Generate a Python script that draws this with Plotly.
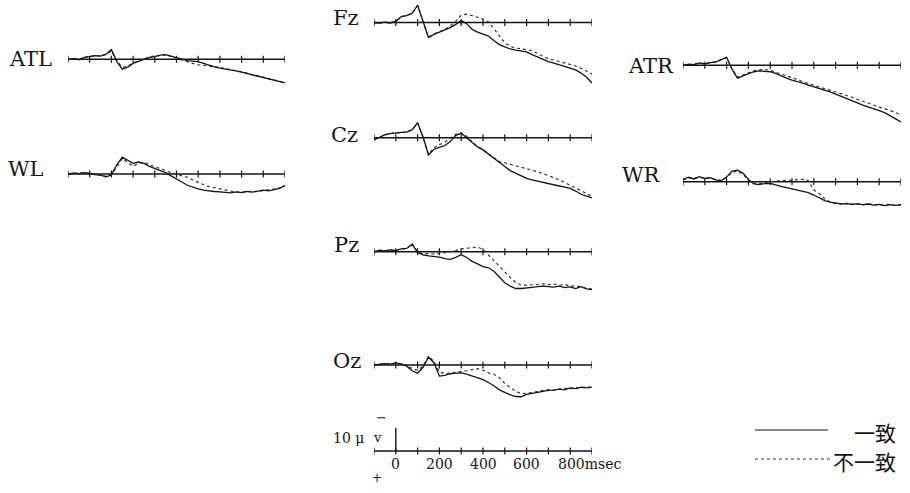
import plotly.graph_objects as go

# ---------------- data ----------------
TIME_MS = [-100, -75, -50, -25, 0, 25, 50, 75, 100, 125, 150, 175, 200, 225, 250, 275,
           300, 325, 350, 375, 400, 425, 450, 475, 500, 525, 550, 575, 600, 625, 650,
           675, 700, 725, 750, 775, 800, 825, 850, 875, 900]
TICKS_MS = [-100, 0, 100, 200, 300, 400, 500, 600, 700, 800, 900]
SCALE_TICK_MS = [0, 200, 400, 600, 800]
SCALE_TICK_TEXT = ["0", "200", "400", "600", "800msec"]
CAL_MS = [0, 0]
CAL_UV = [0, -10]

# values in microvolts (negative plotted upward)
FZ_MATCH = [0.0, 0.3, -0.2, 0.2, -0.5, -2.6, -3.0, -4.0, -7.5, -0.5, 6.5, 5.2, 4.3, 3.3, 2.2, 0.8,
            -0.9, 0.5, 3.0, 4.2, 5.0, 5.9, 7.8, 9.6, 10.6, 11.5, 12.0, 12.4, 12.8, 14.0, 15.0,
            16.2, 17.0, 17.7, 18.4, 19.1, 19.8, 20.6, 22.0, 23.8, 26.3]
FZ_MISMATCH = [0.1, 0.2, -0.1, 0.3, -0.4, -2.5, -3.1, -4.1, -7.3, -0.3, 6.3, 5.0, 4.0, 3.0, 1.5, -0.5,
               -3.2, -3.6, -3.0, -2.4, -1.5, -0.3, 2.5, 5.8, 8.8, 10.4, 11.1, 11.4, 11.6, 12.2, 13.5,
               14.8, 15.8, 16.3, 16.9, 17.5, 18.1, 18.9, 19.9, 21.0, 22.4]
CZ_MATCH = [1.0, 0.0, -1.3, -1.8, -2.2, -2.3, -2.4, -3.5, -6.5, -0.3, 7.5, 5.0, 4.2, 3.4, 1.7, -1.0,
            -1.9, 0.0, 2.2, 4.0, 5.3, 7.2, 9.0, 10.8, 12.5, 14.3, 15.4, 16.7, 17.7, 18.3, 18.9,
            19.4, 19.9, 20.4, 21.0, 21.5, 22.0, 23.2, 24.6, 25.4, 26.2]
CZ_MISMATCH = [0.8, 0.1, -1.2, -1.9, -2.1, -2.4, -2.5, -3.4, -6.3, -0.2, 7.2, 4.5, 3.0, 2.0, 0.2, -1.5,
               -2.1, -0.6, 1.8, 3.8, 5.2, 7.0, 8.8, 10.4, 10.9, 11.5, 12.2, 12.8, 13.3, 14.0, 14.8,
               15.6, 16.5, 17.3, 18.3, 19.5, 20.8, 21.9, 23.0, 24.3, 25.6]
PZ_MATCH = [0.0, -0.6, -0.3, -0.8, -0.5, -1.2, -1.4, -3.2, 0.3, 1.4, 1.8, 2.0, 2.4, 3.0, 3.3, 2.5,
            1.3, 2.5, 4.2, 5.3, 6.5, 7.0, 8.5, 11.0, 13.5, 15.0, 16.0, 16.0, 15.9, 15.5, 15.2,
            15.0, 15.2, 15.4, 15.0, 15.6, 15.3, 16.0, 15.2, 16.2, 16.5]
PZ_MISMATCH = [0.2, -0.8, -0.2, -1.0, -0.3, -1.4, -1.2, -3.5, 0.0, 1.0, 0.8, 1.0, 0.8, 0.5, 0.0, -0.5,
               -1.2, -1.5, -1.8, -2.0, -1.0, 1.5, 4.0, 6.2, 8.7, 11.2, 13.3, 14.5, 14.6, 14.3, 14.0,
               14.0, 14.3, 14.1, 14.6, 14.2, 15.0, 14.8, 15.4, 15.8, 16.3]
OZ_MATCH = [0.0, -0.3, -0.6, -0.4, -0.9, -0.5, 0.5, 2.5, 3.6, 1.0, -3.4, -1.0, 4.8, 4.5, 3.8, 3.5,
            3.4, 4.0, 4.8, 5.5, 6.4, 7.6, 9.0, 10.8, 12.0, 13.0, 13.7, 13.8, 12.8, 12.3, 11.8,
            11.2, 11.0, 10.9, 10.5, 10.8, 10.0, 10.3, 9.6, 9.9, 9.6]
OZ_MISMATCH = [0.2, -0.4, -0.5, -0.6, -0.7, -0.3, 0.3, 1.5, 2.3, 0.5, -3.8, -1.5, 3.0, 3.8, 3.5, 3.0,
               3.0, 2.5, 2.0, 1.6, 2.3, 3.4, 4.0, 5.5, 8.0, 9.8, 11.4, 12.5, 12.3, 12.0, 11.5,
               11.0, 10.7, 10.9, 10.4, 10.2, 10.4, 9.8, 10.0, 9.5, 9.8]
ATL_MATCH = [0.0, -0.3, 0.2, -0.8, -1.2, -1.6, -1.4, -2.2, -4.2, 1.0, 4.3, 3.4, 1.8, 1.0, 0.0, -0.8,
             -1.2, -1.8, -2.0, -1.4, -0.8, 0.0, 0.6, 0.8, 1.0, 1.8, 2.6, 3.3, 3.8, 4.1, 4.6,
             5.0, 5.6, 6.2, 6.7, 7.3, 7.9, 8.5, 9.0, 9.7, 10.3]
ATL_MISMATCH = [0.2, -0.5, 0.0, -0.6, -1.5, -1.3, -1.8, -2.0, -3.6, 0.6, 3.5, 3.0, 1.5, 0.6, -0.3, -1.0,
                -1.5, -1.6, -1.8, -1.2, -0.4, 0.5, 1.2, 1.8, 2.4, 2.7, 2.8, 3.0, 3.5, 4.0, 4.4,
                5.1, 5.5, 6.0, 6.8, 7.2, 7.8, 8.6, 9.1, 9.6, 10.0]
WL_MATCH = [0.0, -0.4, -0.2, -0.6, -0.3, 0.3, 0.5, 1.2, 0.4, -4.0, -7.3, -6.0, -4.6, -5.2, -4.6, -3.3,
            -2.5, -1.7, -0.6, 0.8, 2.0, 3.5, 4.9, 5.8, 6.5, 7.0, 7.4, 7.6, 7.8, 8.0, 8.2,
            7.8, 8.1, 7.6, 7.9, 7.4, 7.0, 7.3, 6.7, 6.2, 5.0]
WL_MISMATCH = [0.2, -0.3, -0.4, -0.5, -0.1, 0.2, 0.7, 1.0, 0.0, -3.0, -6.8, -5.0, -3.4, -4.6, -5.2, -4.0,
               -3.2, -2.5, -1.5, -0.5, 0.2, 0.8, 1.4, 2.6, 3.8, 4.7, 5.5, 6.0, 6.6, 7.2, 7.6,
               7.9, 7.8, 7.9, 7.5, 7.7, 7.2, 7.0, 6.5, 6.0, 5.2]
ATR_MATCH = [0.0, -0.5, -0.3, -1.0, -0.6, -1.2, -1.4, -2.6, -3.5, 1.8, 5.6, 4.6, 3.6, 2.8, 2.4, 2.6,
             2.8, 3.5, 4.6, 5.6, 6.4, 7.0, 7.8, 8.6, 9.3, 9.9, 10.7, 11.6, 12.5, 13.4, 14.2,
             15.2, 16.3, 17.3, 18.0, 18.9, 19.7, 20.6, 21.8, 23.3, 24.6]
ATR_MISMATCH = [0.2, -0.3, -0.6, -0.8, -0.9, -1.0, -1.6, -2.4, -3.3, 1.5, 5.2, 4.2, 3.2, 2.4, 2.0, 1.8,
                2.2, 3.0, 3.8, 4.3, 5.2, 6.2, 7.2, 8.0, 8.8, 9.4, 10.2, 10.9, 11.6, 12.3, 13.0,
                13.9, 14.8, 15.7, 16.5, 17.3, 18.2, 18.8, 19.6, 20.5, 21.6]
WR_MATCH = [-1.0, -2.0, -1.2, -2.2, -1.4, -1.8, -0.8, -0.4, -2.0, -4.6, -5.0, -3.8, -1.0, 1.0, 1.3, 0.8,
            0.7, 1.2, 2.0, 2.6, 3.2, 3.7, 4.2, 4.8, 5.8, 7.0, 8.2, 8.9, 9.4, 9.6, 9.5,
            9.8, 9.6, 10.0, 9.7, 10.2, 9.9, 10.4, 10.0, 10.3, 10.1]
WR_MISMATCH = [-0.8, -1.6, -1.5, -1.9, -1.6, -1.5, -1.0, -0.6, -1.8, -4.2, -4.6, -3.3, -0.6, 0.6, 0.8, 0.3,
               0.0, -0.3, -0.5, -0.6, -0.8, -0.9, -1.0, -0.5, 3.5, 5.2, 7.4, 8.8, 9.5, 9.8, 9.4,
               9.9, 9.5, 10.1, 9.6, 10.0, 10.1, 10.2, 9.8, 10.4, 10.0]

LEGEND_TEXT = ["一致", "不一致"]

# ---------------- layout ----------------
W, H = 910, 493
PX_PER_UV = 2.3
INK = "#151515"
SERIF = "DejaVu Serif, Liberation Serif, serif"
CJK = "Noto Sans CJK JP, Noto Sans CJK SC, sans-serif"

# (label, match, mismatch, left px, right px, baseline px, label x, label y)
PANELS = [
    ("Fz", FZ_MATCH, FZ_MISMATCH, 374, 592, 22.5, 346, 18),
    ("Cz", CZ_MATCH, CZ_MISMATCH, 374, 592, 137.7, 344, 135),
    ("Pz", PZ_MATCH, PZ_MISMATCH, 374, 592, 251.7, 346, 245),
    ("Oz", OZ_MATCH, OZ_MISMATCH, 374, 592, 365, 347, 361),
    ("ATL", ATL_MATCH, ATL_MISMATCH, 68, 285, 59.3, 30, 59),
    ("WL", WL_MATCH, WL_MISMATCH, 68, 285, 174, 26, 169),
    ("ATR", ATR_MATCH, ATR_MISMATCH, 683, 901, 65.3, 651, 66),
    ("WR", WR_MATCH, WR_MISMATCH, 683, 901, 181.7, 641, 175),
]

fig = go.Figure()
layout = dict(width=W, height=H, margin=dict(l=0, r=0, t=0, b=0),
              paper_bgcolor="white", plot_bgcolor="white", showlegend=False)
annotations = []
shapes = []


def add_axes(n, x0, x1, base, top_uv, bot_uv):
    ytop = base + top_uv * PX_PER_UV
    ybot = base + bot_uv * PX_PER_UV
    suffix = "" if n == 1 else str(n)
    layout["xaxis" + suffix] = dict(domain=[x0 / W, x1 / W], range=[TIME_MS[0], TIME_MS[-1]],
                                    visible=False, fixedrange=True)
    layout["yaxis" + suffix] = dict(domain=[1 - ybot / H, 1 - ytop / H], range=[bot_uv, top_uv],
                                    visible=False, fixedrange=True)
    return "x" + suffix, "y" + suffix


def add_baseline(xa, ya):
    fig.add_trace(go.Scatter(x=[TICKS_MS[0], TICKS_MS[-1]], y=[0, 0], xaxis=xa, yaxis=ya,
                             mode="lines", line=dict(color=INK, width=1.4), hoverinfo="skip"))
    fig.add_trace(go.Scatter(x=TICKS_MS, y=[0] * len(TICKS_MS), xaxis=xa, yaxis=ya, mode="markers",
                             marker=dict(symbol="line-ns", size=5,
                                         line=dict(color=INK, width=1.2)),
                             hoverinfo="skip"))


n = 0
for label, match, mismatch, x0, x1, base, lx, ly in PANELS:
    n += 1
    xa, ya = add_axes(n, x0, x1, base, -9, 28)
    add_baseline(xa, ya)
    fig.add_trace(go.Scatter(x=TIME_MS, y=mismatch, xaxis=xa, yaxis=ya, mode="lines",
                             line=dict(color="#333333", width=1.2, dash="dot"),
                             cliponaxis=False, name=LEGEND_TEXT[1]))
    fig.add_trace(go.Scatter(x=TIME_MS, y=match, xaxis=xa, yaxis=ya, mode="lines",
                             line=dict(color=INK, width=1.3),
                             cliponaxis=False, name=LEGEND_TEXT[0]))
    annotations.append(dict(text=label, x=lx / W, y=1 - ly / H, xref="paper", yref="paper",
                            xanchor="center", yanchor="middle", showarrow=False,
                            font=dict(family=SERIF, size=21, color=INK)))

# ---------------- scale bar ----------------
n += 1
xs, ys = add_axes(n, 374, 592, 451, -12, 4)
add_baseline(xs, ys)
fig.add_trace(go.Scatter(x=CAL_MS, y=CAL_UV, xaxis=xs, yaxis=ys, mode="lines",
                         line=dict(color=INK, width=1.4), hoverinfo="skip"))
for ms, txt in zip(SCALE_TICK_MS, SCALE_TICK_TEXT):
    a = dict(text=txt, x=ms, xref=xs, y=1 - 464 / H, yref="paper", showarrow=False,
             yanchor="middle", font=dict(family=SERIF, size=14, color=INK))
    if txt.endswith("msec"):
        a.update(xanchor="left", xshift=-14)
    else:
        a.update(xanchor="center")
    annotations.append(a)

for txt, px, py, size in [("10 μ", 348, 438, 14), ("v", 377, 437, 13),
                          ("−", 381, 417, 13), ("+", 377, 478, 12)]:
    annotations.append(dict(text=txt, x=px / W, y=1 - py / H, xref="paper", yref="paper",
                            showarrow=False, xanchor="center", yanchor="middle",
                            font=dict(family=SERIF, size=size, color=INK)))

# ---------------- legend ----------------
shapes.append(dict(type="line", xref="paper", yref="paper", x0=755 / W, x1=828 / W,
                   y0=1 - 430 / H, y1=1 - 430 / H, line=dict(color=INK, width=1.2)))
shapes.append(dict(type="line", xref="paper", yref="paper", x0=755 / W, x1=832 / W,
                   y0=1 - 459 / H, y1=1 - 459 / H, line=dict(color="#333333", width=1.2, dash="dot")))
annotations.append(dict(text=LEGEND_TEXT[0], x=898 / W, y=1 - 432 / H, xref="paper", yref="paper",
                        showarrow=False, xanchor="right", yanchor="middle",
                        font=dict(family=CJK, size=21, color=INK)))
annotations.append(dict(text=LEGEND_TEXT[1], x=898 / W, y=1 - 461 / H, xref="paper", yref="paper",
                        showarrow=False, xanchor="right", yanchor="middle",
                        font=dict(family=CJK, size=21, color=INK)))

layout["annotations"] = annotations
layout["shapes"] = shapes
fig.update_layout(**layout)
fig.write_html("out.html", config={"displayModeBar": False},
               post_script="document.body.style.margin='0px';document.body.style.overflow='hidden';")
